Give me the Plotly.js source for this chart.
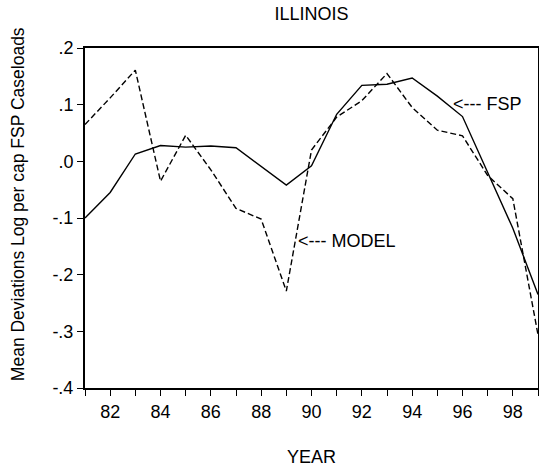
<!DOCTYPE html>
<html>
<head>
<meta charset="utf-8">
<script src="https://cdn.plot.ly/plotly-3.0.1.min.js"></script>
<style>html,body{margin:0;padding:0;background:#fff;}#chart{width:539px;height:472px;}</style>
</head>
<body>
<div id="chart"></div>
<script>
const years = [81,82,83,84,85,86,87,88,89,90,91,92,93,94,95,96,97,98,99];
const fsp = [-0.100,-0.055,0.013,0.028,0.025,0.027,0.024,-0.009,-0.042,-0.008,0.083,0.134,0.136,0.147,0.115,0.079,-0.018,-0.118,-0.235];
const model = [0.065,0.112,0.161,-0.035,0.046,-0.015,-0.083,-0.102,-0.229,0.020,0.078,0.107,0.155,0.095,0.055,0.045,-0.025,-0.066,-0.306];
const xTickVals = [81,82,83,84,85,86,87,88,89,90,91,92,93,94,95,96,97,98,99];
const xTickText = ["","82","","84","","86","","88","","90","","92","","94","","96","","98",""];
const yTickVals = [0.2,0.1,0.0,-0.1,-0.2,-0.3,-0.4];
const yTickText = [".2",".1",".0","-.1","-.2","-.3","-.4"];
const titleText = "ILLINOIS";
const xTitle = "YEAR";
const yTitle = "Mean Deviations Log per cap FSP Caseloads";
const labels = [
  {text: "<--- FSP", x: 95.55, y: 0.102},
  {text: "<--- MODEL", x: 89.4, y: -0.140}
];

const FONT = "Liberation Sans, Arial, Helvetica, sans-serif";
const FS = 18;
const traces = [
  {x: years, y: fsp, type: "scatter", mode: "lines", name: "FSP",
   line: {color: "#000", width: 1.4}},
  {x: years, y: model, type: "scatter", mode: "lines", name: "MODEL",
   line: {color: "#000", width: 1.4, dash: "6px,3px"}}
];
const annots = labels.map(l => ({text: l.text, x: l.x, y: l.y, xref: "x", yref: "y",
     xanchor: "left", yanchor: "middle", showarrow: false,
     font: {family: FONT, size: FS, color: "#000"}}));
annots.push({text: yTitle, textangle: -90, xref: "paper", yref: "paper",
     x: -0.1477, y: 0.541, xanchor: "center", yanchor: "middle", showarrow: false,
     font: {family: FONT, size: 17.5, color: "#000"}});
const layout = {
  width: 539, height: 472,
  margin: {l: 85, r: 1, t: 48, b: 84},
  paper_bgcolor: "#fff", plot_bgcolor: "#fff",
  showlegend: false,
  font: {family: FONT, size: FS, color: "#000"},
  title: {text: titleText, x: 0.5, xref: "paper", y: 1 - 14/472, yref: "container", yanchor: "middle",
          font: {family: FONT, size: FS, color: "#000"}},
  xaxis: {range: [81, 99], tickvals: xTickVals, ticktext: xTickText,
          ticks: "outside", ticklen: 6, tickwidth: 1, tickcolor: "#000",
          showline: true, linewidth: 2, linecolor: "#000", mirror: true,
          showgrid: false, zeroline: false,
          tickfont: {family: FONT, size: FS, color: "#000"},
          title: {text: xTitle, standoff: 30, font: {family: FONT, size: FS, color: "#000"}}},
  yaxis: {range: [-0.4, 0.2], tickvals: yTickVals, ticktext: yTickText,
          ticks: "outside", ticklen: 6, tickwidth: 1, tickcolor: "#000",
          showline: true, linewidth: 2, linecolor: "#000", mirror: true,
          showgrid: false, zeroline: false,
          tickfont: {family: FONT, size: FS, color: "#000"}},
  annotations: annots
};
Plotly.newPlot("chart", traces, layout, {displayModeBar: false, staticPlot: true});
</script>
</body>
</html>
